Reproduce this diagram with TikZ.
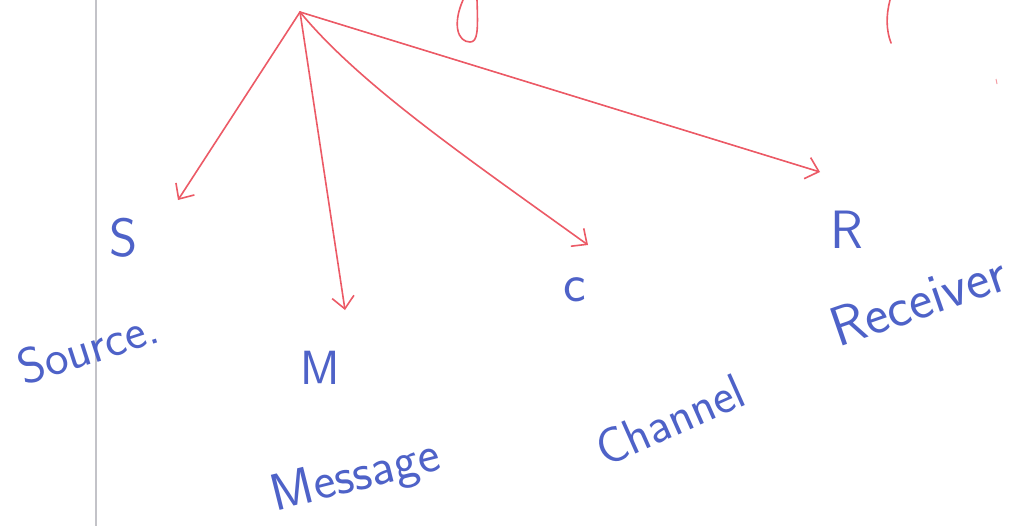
\documentclass[tikz,border=0pt]{standalone}
\usetikzlibrary{arrows.meta}
\definecolor{ink}{RGB}{78,98,200}
\definecolor{pen}{RGB}{236,90,102}
\definecolor{margin}{RGB}{195,195,200}
\begin{document}
\begin{tikzpicture}[x=0.5pt,y=-0.5pt,
  arr/.style={pen,line width=0.8pt,line cap=round,-{Straight Barb[length=6pt,width=11pt]}},
  stroke/.style={pen,line width=0.8pt,line cap=round},
  big/.style={ink,font=\sffamily\fontsize{27}{27}\selectfont,inner sep=0pt},
  word/.style={ink,font=\sffamily\fontsize{25}{25}\selectfont,inner sep=0pt}]
\fill[white] (0,0) rectangle (1036,526);
\useasboundingbox (0,0) rectangle (1036,526);
% margin rule
\coordinate (mt) at (96,0);
\coordinate (mb) at (96,526);
\draw[margin,line width=0.6pt] (mt) -- (mb);
% partial letters at the top edge
\draw[stroke] (463,0) .. controls (452,25) and (458,42) .. (470,42) .. controls (478,42) and (478,30) .. (477,0);
\draw[stroke] (890,0) .. controls (886,15) and (886,30) .. (891,43);
\draw[pen!60,line width=0.5pt] (996,79) -- (997,84);
% hub and arrow ends
\coordinate (o) at (300,12);
\coordinate (s) at (178,200);
\coordinate (m) at (345,310);
\coordinate (c) at (588,245);
\coordinate (r) at (820,172);
\draw[arr] (o) -- (s);
\draw[arr] (o) -- (m);
\draw[arr] (o) .. controls (360,85) and (470,160) .. (c);
\draw[arr] (o) -- (r);
% labels
\node[big] (S) at (124,238) {S};
\node[word,rotate=18] (source) at (88,347) {Source.};
\node[big,font=\sffamily\fontsize{24}{24}\selectfont] (M) at (320,368) {M};
\node[word,font=\sffamily\fontsize{26}{26}\selectfont,rotate=14] (message) at (356,478) {Message};
\node[big] (C) at (575,290) {c};
\node[word,rotate=24] (channel) at (670,420) {Channel};
\node[big] (R) at (847,230) {R};
\node[word,font=\sffamily\fontsize{28}{28}\selectfont,rotate=19] (receiver) at (918,300) {Receiver};
\end{tikzpicture}
\end{document}
